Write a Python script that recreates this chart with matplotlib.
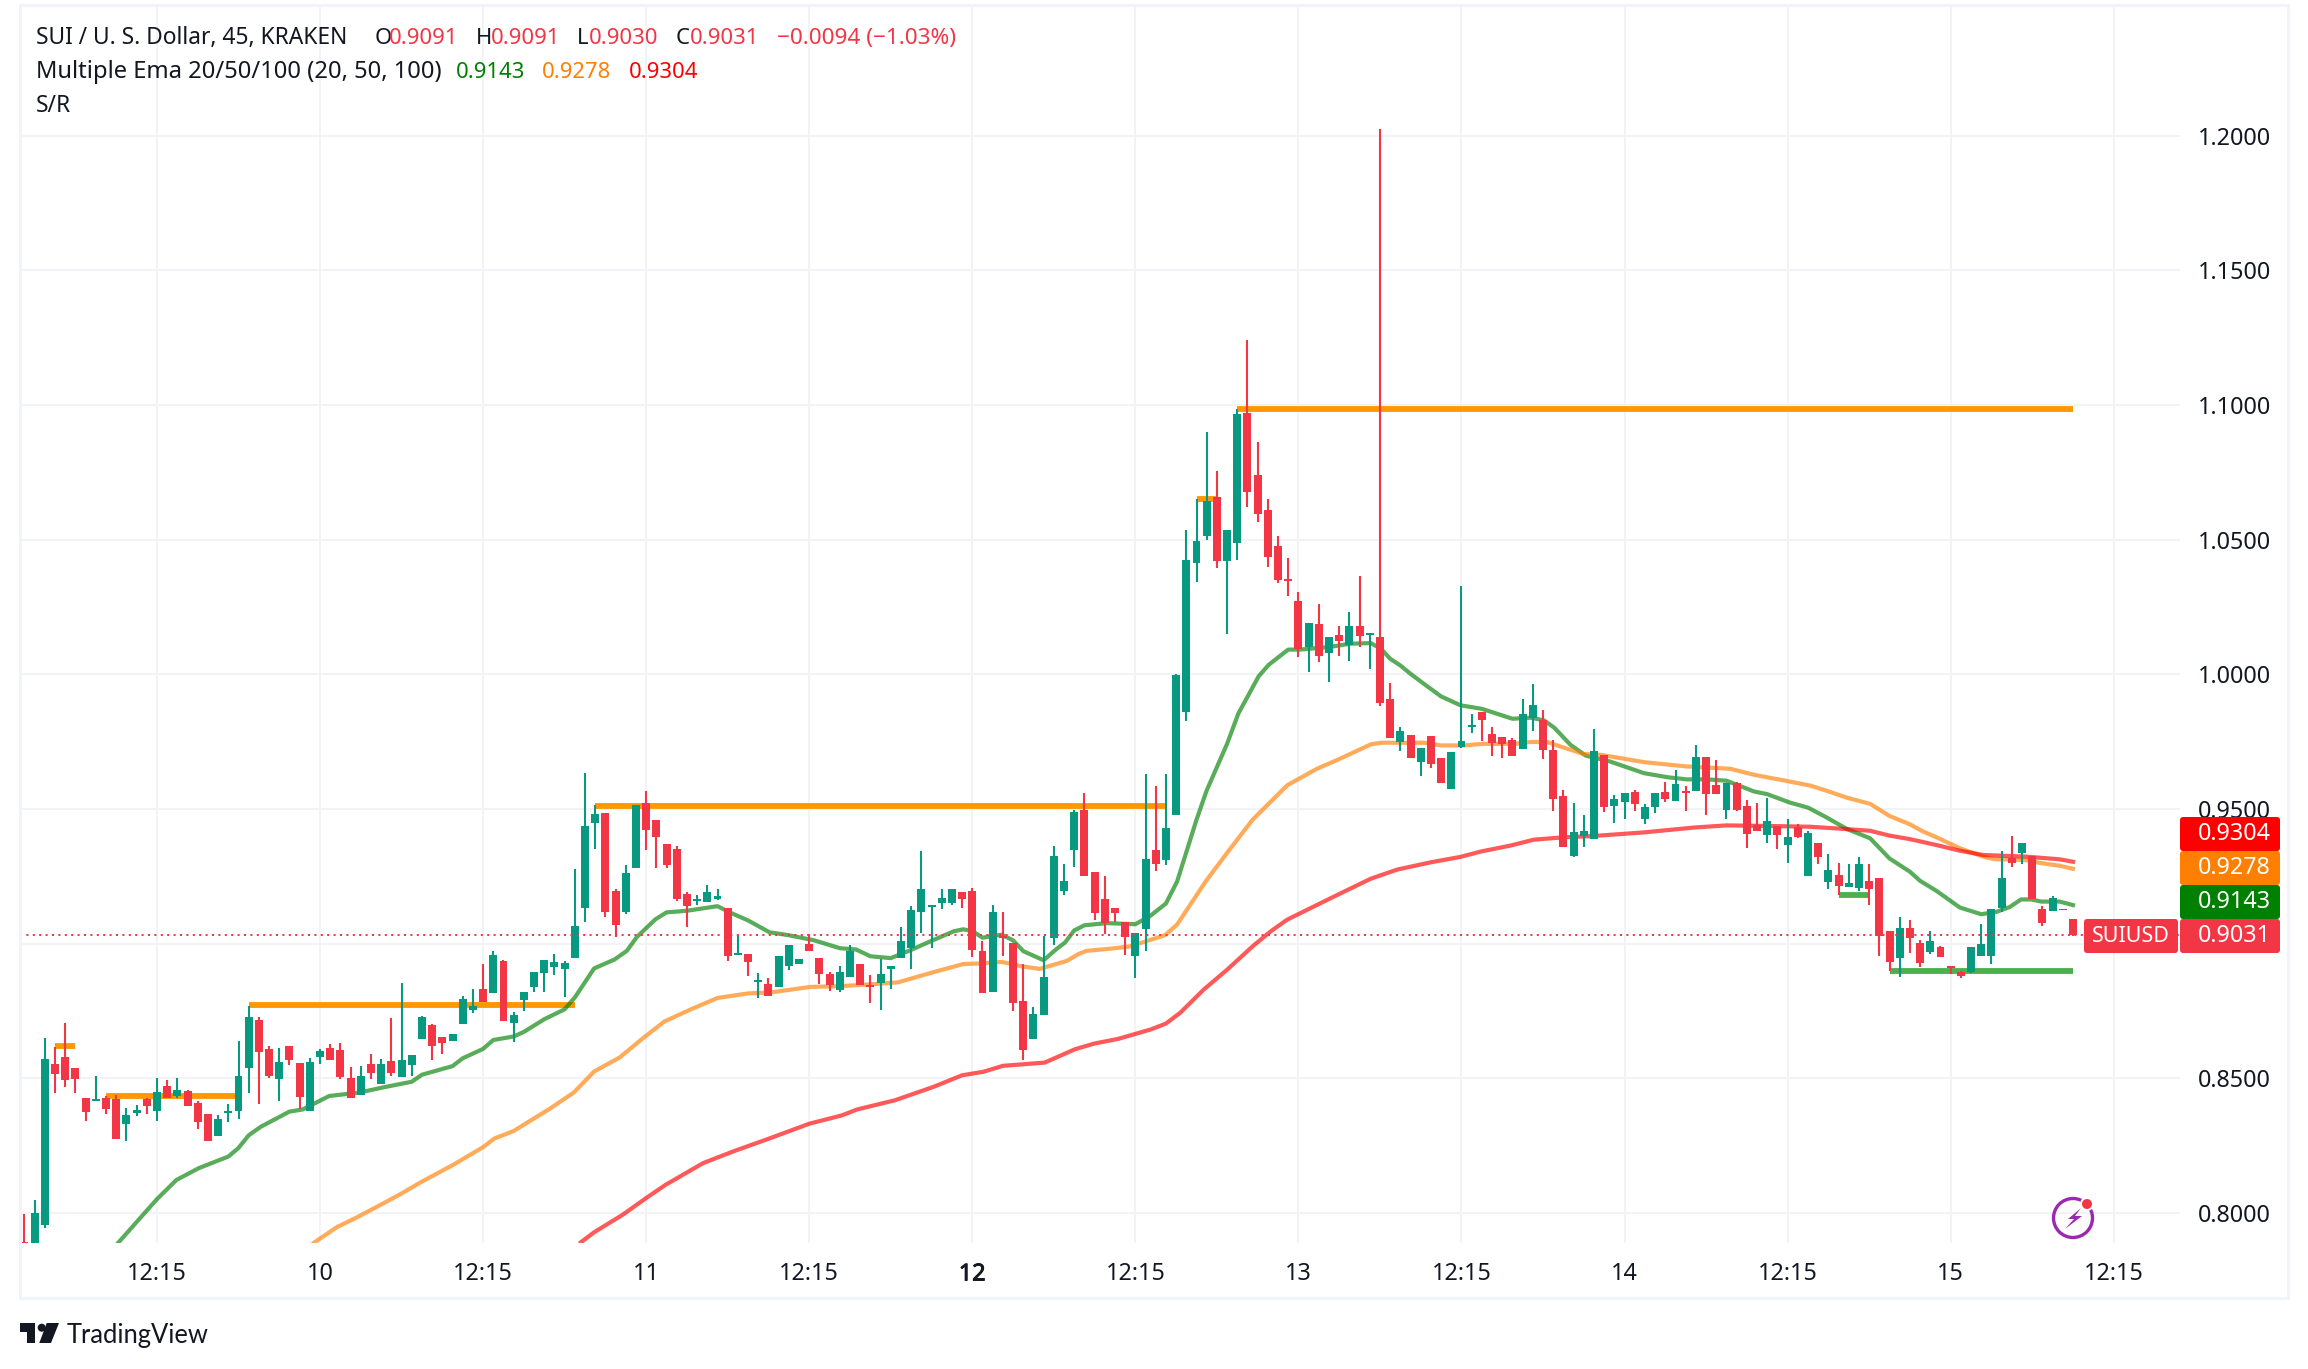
"""SUI / USD 45 minute candles with EMA ribbon and S/R levels."""
import matplotlib

matplotlib.use("Agg")
import matplotlib.patheffects as pe
import matplotlib.pyplot as plt
from matplotlib.patches import Circle, FancyBboxPatch, Polygon, Rectangle

# ---- data (bar index 0 = first 12:15 gridline)
first_bar = -13

opens = [
    .7893, .7800, .7956, .8553, .8578, .8537, .8426, .8417, .8426, .8423,
    .8331, .8371, .8423, .8380, .8471, .8434, .8453, .8407, .8368, .8284,
    .8371, .8380, .8539, .8716, .8610, .8498, .8621, .8556, .8380, .8577,
    .8612, .8605, .8499, .8439, .8553, .8479, .8564, .8504, .8550, .8645,
    .8697, .8653, .8640, .8702, .8754, .8832, .8816, .8935, .8704, .8791,
    .8838, .8891, .8913, .8906, .8946, .9132, .9448, .9485, .9197, .9116,
    .9282, .9522, .9459, .9371, .9352, .9186, .9158, .9156, .9167, .9134,
    .8958, .8961, .8858, .8850, .8839, .8916, .8924, .8998, .8946, .8887,
    .8828, .8876, .8924, .8846, .8853, .8905, .8946, .8983, .9119, .9135,
    .9149, .9149, .9190, .9197, .8972, .8820, .9028, .9001, .8787, .8647,
    .8735, .9020, .9197, .9349, .9496, .9267, .9164, .9131, .9079, .8953,
    .9053, .9349, .9312, .9476, .9860, 1.0412, 1.0513, 1.0658, 1.0420, 1.0487,
    1.0970, 1.0739, 1.0609, 1.0476, 1.0353, 1.0271, 1.0100, 1.0186, 1.0078, 1.0145,
    1.0108, 1.0178, 1.0146, 1.0137, .9907, .9747, .9773, .9673, .9770, .9688,
    .9576, .9729, .9803, .9859, .9777, .9766, .9758, .9721, .9837, .9829,
    .9718, .9548, .9325, .9400, .9388, .9701, .9511, .9526, .9563, .9463,
    .9507, .9563, .9530, .9567, .9567, .9694, .9589, .9496, .9597, .9511,
    .9440, .9403, .9437, .9366, .9433, .9251, .9373, .9228, .9254, .9210,
    .9206, .9232, .9243, .9046, .8945, .9057, .9001, .8968, .8986, .8916,
    .8893, .8893, .8953, .8953, .9132, .9318, .9336, .9325, .9128, .9120,
    .9124, .9091,
]
closes = [
    .7880, .8000, .8572, .8515, .8494, .8498, .8376, .8422, .8384, .8273,
    .8363, .8382, .8395, .8449, .8426, .8456, .8398, .8339, .8265, .8349,
    .8374, .8509, .8727, .8596, .8510, .8561, .8569, .8431, .8561, .8601,
    .8569, .8504, .8428, .8509, .8518, .8553, .8521, .8567, .8586, .8727,
    .8620, .8631, .8664, .8794, .8769, .8783, .8957, .8713, .8735, .8821,
    .8894, .8940, .8932, .8929, .9065, .9437, .9482, .9119, .9068, .9264,
    .9515, .9422, .9397, .9293, .9167, .9138, .9164, .9193, .9175, .8953,
    .8964, .8931, .8865, .8805, .8953, .8994, .8942, .8972, .8887, .8846,
    .8894, .8972, .8846, .8840, .8887, .8916, .9009, .9123, .9204, .9142,
    .9171, .9201, .9164, .8975, .8817, .9116, .9020, .8780, .8606, .8739,
    .8876, .9326, .9234, .9489, .9252, .9112, .9075, .9112, .9023, .9038,
    .9315, .9297, .9430, .9996, 1.0424, 1.0494, 1.0643, 1.0420, 1.0535, 1.0966,
    1.0676, 1.0594, 1.0435, 1.0349, 1.0347, 1.0093, 1.0190, 1.0067, 1.0137, 1.0123,
    1.0178, 1.0141, 1.0152, .9892, .9762, .9788, .9688, .9725, .9666, .9595,
    .9710, .9751, .9811, .9829, .9744, .9740, .9695, .9851, .9885, .9718,
    .9536, .9360, .9414, .9418, .9716, .9507, .9537, .9560, .9519, .9507,
    .9560, .9537, .9593, .9561, .9694, .9556, .9556, .9597, .9496, .9407,
    .9418, .9455, .9403, .9396, .9396, .9411, .9321, .9273, .9213, .9225,
    .9295, .9202, .9027, .8931, .9057, .9020, .8927, .9009, .8949, .8909,
    .8878, .8986, .8998, .9128, .9243, .9299, .9373, .9165, .9076, .9169,
    .9128, .9031,
]
highs = [
    .7995, .8048, .8650, .8616, .8705, .8537, .8426, .8509, .8434, .8437,
    .8390, .8399, .8426, .8501, .8493, .8501, .8456, .8415, .8368, .8363,
    .8403, .8639, .8770, .8729, .8620, .8612, .8621, .8556, .8574, .8609,
    .8628, .8631, .8542, .8545, .8590, .8572, .8724, .8854, .8586, .8731,
    .8702, .8653, .8664, .8805, .8832, .8924, .8973, .8938, .8746, .8821,
    .8894, .8940, .8962, .8935, .9277, .9635, .9515, .9485, .9201, .9293,
    .9515, .9567, .9459, .9371, .9363, .9190, .9179, .9219, .9204, .9134,
    .9031, .8963, .8890, .8872, .8953, .8994, .8942, .9034, .8946, .8894,
    .8916, .8994, .8924, .8883, .8942, .8916, .9060, .9138, .9345, .9142,
    .9204, .9204, .9190, .9208, .9009, .9142, .9119, .9001, .8924, .8765,
    .9027, .9363, .9297, .9496, .9559, .9267, .9252, .9133, .9079, .9038,
    .9629, .9585, .9629, 1.0000, 1.0535, 1.0650, 1.0899, 1.0754, 1.0535, 1.0985,
    1.1241, 1.0862, 1.0650, 1.0513, 1.0431, 1.0305, 1.0190, 1.0260, 1.0137, 1.0178,
    1.0230, 1.0364, 1.0152, 1.2027, .9967, .9803, .9773, .9725, .9770, .9688,
    .9710, 1.0327, .9851, .9859, .9803, .9766, .9762, .9907, .9963, .9866,
    .9755, .9571, .9522, .9478, .9798, .9701, .9552, .9560, .9571, .9519,
    .9560, .9600, .9645, .9586, .9738, .9694, .9682, .9597, .9600, .9534,
    .9522, .9541, .9437, .9463, .9444, .9418, .9373, .9333, .9299, .9295,
    .9321, .9295, .9243, .9046, .9098, .9087, .9012, .9046, .8990, .8916,
    .8897, .8986, .9072, .9128, .9344, .9400, .9373, .9325, .9139, .9176,
    .9128, .9091,
]
lows = [
    .7850, .7750, .7943, .8445, .8469, .8444, .8341, .8417, .8368, .8273,
    .8265, .8358, .8368, .8341, .8426, .8426, .8398, .8312, .8265, .8284,
    .8336, .8347, .8444, .8406, .8501, .8414, .8550, .8384, .8380, .8553,
    .8569, .8498, .8428, .8439, .8498, .8479, .8510, .8504, .8510, .8645,
    .8567, .8590, .8640, .8702, .8742, .8783, .8816, .8713, .8634, .8750,
    .8821, .8821, .8883, .8802, .8946, .9081, .9352, .9099, .9025, .9110,
    .9282, .9349, .9282, .9282, .9160, .9060, .9145, .9156, .9163, .8935,
    .8958, .8879, .8798, .8805, .8839, .8901, .8924, .8972, .8850, .8824,
    .8820, .8876, .8846, .8780, .8754, .8831, .8946, .8905, .9038, .8983,
    .9127, .9142, .9131, .8950, .8817, .8820, .8953, .8750, .8569, .8647,
    .8735, .8994, .9179, .9286, .9252, .9086, .9034, .9079, .8957, .8872,
    .8972, .9271, .9293, .9476, .9825, 1.0342, 1.0498, 1.0394, 1.0149, 1.0424,
    1.0621, 1.0565, 1.0398, 1.0338, 1.0290, 1.0063, 1.0007, 1.0045, .9970, 1.0067,
    1.0048, 1.0100, 1.0019, .9881, .9762, .9714, .9688, .9621, .9651, .9595,
    .9576, .9725, .9784, .9751, .9695, .9688, .9695, .9721, .9788, .9684,
    .9491, .9360, .9321, .9360, .9388, .9489, .9448, .9463, .9493, .9444,
    .9485, .9526, .9530, .9493, .9567, .9478, .9556, .9463, .9493, .9355,
    .9418, .9373, .9351, .9299, .9392, .9251, .9295, .9202, .9180, .9210,
    .9195, .9143, .8953, .8897, .8875, .8964, .8912, .8960, .8949, .8886,
    .8871, .8890, .8953, .8923, .9117, .9284, .9295, .9165, .9065, .9120,
    .9124, .9030,
]

ema20_x = [
    -3.8, 0, 1.9, 4.1, 7, 8, 9, 10.2, 13, 14.3, 16.9, 19.9, 22.2, 25, 26, 29, 30, 32, 33,
    35, 36, 38, 40, 41, 42.9, 44.9, 46.1, 47.1, 48.9, 50, 52, 55, 56.2, 58, 60.1, 62,
    64.5, 67, 68.6, 70, 72, 73.9, 76.1, 78.2, 79.1, 80, 81, 82.9, 84, 85, 87, 88.2,
    89.1, 90, 91, 93.2, 96, 97.5, 99, 100.1, 102, 103, 105, 106.1, 108.1, 109.1,
    111, 112.2, 115.1, 117.1, 119.1, 120.1, 121, 122, 123, 124.3, 126, 127.9, 130,
    133, 134.8, 136.1, 137.1, 138.7, 140.2, 142.6, 145.9, 148.2, 150.1, 152.1, 154,
    156.7, 158, 160.2, 162, 163.8, 165.8, 168.1, 170, 172, 173, 174.6, 176.9, 179,
    180.5, 181.8, 182.9, 183.9, 184.9, 186.7, 188,
]
ema20_y = [
    .7889, .8051, .8122, .8166, .8209, .8241, .8288, .8320, .8376, .8384, .8434, .8447,
    .8466, .8487, .8513, .8545, .8574, .8609, .8642, .8655, .8672, .8719, .8756, .8800,
    .8908, .8941, .8973, .9025, .9090, .9116, .9122, .9139, .9116, .9086, .9042, .9031,
    .9012, .8983, .8978, .8953, .8946, .8975, .9012, .9046, .9053, .9047, .9022, .9033,
    .9012, .8972, .8938, .8978, .9004, .9049, .9068, .9076, .9072, .9104, .9149, .9231,
    .9460, .9569, .9742, .9854, .9993, 1.0036, 1.0092, 1.0092, 1.0102, 1.0114, 1.0116,
    1.0095, 1.0058, 1.0033, 1.0002, .9965, .9918, .9885, .9872, .9835, .9839, .9829,
    .9802, .9738, .9698, .9676, .9633, .9618, .9610, .9610, .9605, .9565, .9555, .9524,
    .9505, .9469, .9426, .9391, .9316, .9267, .9233, .9196, .9134, .9109, .9118, .9136,
    .9164, .9164, .9156, .9156, .9143,
]
ema50_x = [
    15.4, 17.7, 19.4, 22.2, 24.1, 25.9, 29, 32, 33.1, 35, 38.6, 40.9, 42.9, 45.4, 47.6,
    49.8, 52.4, 55, 58, 60.3, 64.1, 67.1, 70.1, 72.7, 76.1, 79.1, 80.6, 82.9, 84.8,
    86.6, 89.3, 90.4, 91.2, 93.8, 95.5, 98.9, 100.1, 102.9, 105, 107.5, 110.9, 113.8, 116.1,
    119.1, 120.1, 124.3, 126, 128.2, 130.2, 133.2, 134.8, 136.4, 137.7, 140, 141.7,
    145.9, 148.2, 150.1, 152.1, 154.4, 156.7, 159.9, 162.2, 163.8, 165.8, 168.1, 170,
    172, 173.3, 174.6, 176.9, 179.2, 180.2, 183.4, 184.7, 186.7, 188,
]
ema50_y = [
    .7889, .7948, .7979, .8035, .8074, .8114, .8177, .8244, .8276, .8304, .8388, .8447,
    .8525, .8577, .8646, .8711, .8756, .8798, .8815, .8819, .8839, .8842, .8849,
    .8856, .8893, .8924, .8926, .8932, .8916, .8906, .8936, .8961, .8973, .8982, .8990,
    .9031, .9071, .9231, .9337, .9460, .9588, .9649, .9687, .9740, .9746, .9746, .9736, .9736,
    .9742, .9742, .9749, .9749, .9732, .9704, .9701, .9674, .9665, .9658, .9654, .9649,
    .9627, .9604, .9587, .9568, .9542, .9519, .9474, .9443, .9416, .9395, .9354, .9323,
    .9314, .9310, .9300, .9289, .9278,
]
ema100_x = [
    41.6, 42.9, 45.7, 48, 49.9, 53.6, 56.6, 60, 64, 67.2, 68.7, 72.4, 76.2, 79, 81.1, 83,
    87.1, 90.1, 92, 94.3, 97.5, 99, 100.4, 102.7, 105, 107.6, 109.3, 110.9, 113.2, 116.1,
    119.1, 121.7, 125, 127.9, 129.9, 132.8, 135.1, 138.1, 140.7, 145.9,
    150.8, 154, 158, 162.2, 165.5, 168.1, 170, 172, 174.6, 176.9, 179.2, 183.4, 186.7,
    188,
]
ema100_y = [
    .7891, .7928, .7993, .8055, .8104, .8185, .8229, .8275, .8331, .8362, .8384, .8418,
    .8468, .8511, .8524, .8546, .8558, .8608, .8629, .8646, .8681, .8703, .8743, .8829,
    .8903, .8993, .9046, .9089, .9132, .9186, .9241, .9275, .9302, .9322, .9342, .9364,
    .9386, .9395, .9399, .9413, .9431, .9439, .9437, .9434, .9426, .9419, .9401, .9388,
    .9366, .9345, .9329, .9323, .9313, .9304,
]

# S/R segments
resist_start = [-10, -5, 9, 43, 102, 106]
resist_end = [-8, 8, 41, 99, 104, 188]
resist_level = [.8618, .8434, .8773, .9511, 1.0651, 1.0985]
support_start = [165, 170]
support_end = [168, 188]
support_level = [.9180, .8897]

price_ticks = [0.80, 0.85, 0.90, 0.95, 1.00, 1.05, 1.10, 1.15, 1.20]
time_ticks = [0, 16, 32, 48, 64, 80, 96, 112, 128, 144, 160, 176, 192]
time_labels = ["12:15", "10", "12:15", "11", "12:15", "12", "12:15", "13",
               "12:15", "14", "12:15", "15", "12:15"]
last_price = 0.9031

UP = "#089981"
DOWN = "#f23645"
GRID = "#f2f3f6"
FRAME = "#f0f3fa"
TEXT = "#131722"
FONT = "Noto Sans"

plt.rcParams["font.family"] = FONT
W, H = 2308, 1369
fig = plt.figure(figsize=(W / 100, H / 100), dpi=100, facecolor="white")

# main pane in pixels: x 20..2180, y 5..1243
ax = fig.add_axes([20 / W, 1 - 1243 / H, 2160 / W, 1238 / H])
ax.set_xlim(-13.44, 198.5)
ax.set_ylim(0.7888, 1.2486)
for s in ax.spines.values():
    s.set_visible(False)
ax.set_axisbelow(True)
ax.grid(True, color=GRID, linewidth=1.44)
ax.yaxis.tick_right()
ax.set_yticks(price_ticks)
ax.set_yticklabels([f"{p:.4f}" for p in price_ticks])
ax.set_xticks(time_ticks)
ax.set_xticklabels(time_labels)
ax.tick_params(axis="y", length=0, pad=13, labelsize=16.8, labelcolor=TEXT)
ax.tick_params(axis="x", length=0, pad=14, labelsize=16.8, labelcolor=TEXT)
for lbl in ax.get_xticklabels():
    if lbl.get_text() == "12":
        # day boundary of the current week is drawn heavier
        lbl.set_path_effects([pe.withStroke(linewidth=0.7, foreground=TEXT)])

# S/R levels
ax.hlines(resist_level, resist_start, resist_end, color="#ff9800", linewidth=4.2, zorder=2)
ax.hlines(support_level, support_start, support_end, color="#4caf50", linewidth=4.2, zorder=2)

# EMA ribbon
ax.plot(ema20_x, ema20_y, color="#008000", alpha=0.65, linewidth=3, zorder=3)
ax.plot(ema50_x, ema50_y, color="#ff7f00", alpha=0.65, linewidth=3, zorder=3)
ax.plot(ema100_x, ema100_y, color="#ff0000", alpha=0.65, linewidth=3, zorder=3)

# candles
bar_x = [first_bar + k for k in range(len(opens))]
colors = [UP if c >= o else DOWN for o, c in zip(opens, closes)]
ax.vlines(bar_x, lows, highs, colors=colors, linewidth=1.5, zorder=4)
body_low = [min(o, c) for o, c in zip(opens, closes)]
body_size = [max(abs(o - c), 0.0006) for o, c in zip(opens, closes)]
ax.bar(bar_x, body_size, bottom=body_low, width=0.78, color=colors, linewidth=0, zorder=5)

ax.axhline(last_price, color=DOWN, linewidth=1.44, linestyle=(0, (1, 2.2)), zorder=6)

# overlay in pixel coordinates for frame, legend, price tags and logos
ov = fig.add_axes([0, 0, 1, 1], zorder=10)
ov.set_xlim(0, W)
ov.set_ylim(H, 0)
ov.axis("off")
ov.patch.set_alpha(0)

ov.add_patch(Rectangle((20, 5), 2268, 1293, fill=False, edgecolor=FRAME, linewidth=2.2))


def legend_text(x, y, s, color=TEXT, size=16.4):
    ov.text(x, y, s, color=color, fontsize=size, va="baseline", ha="left")


legend_text(36, 44, "SUI / U. S. Dollar, 45, KRAKEN")
for x, s, col in [
    (375, "O", TEXT), (389, "0.9091", DOWN), (476, "H", TEXT), (491, "0.9091", DOWN),
    (577, "L", TEXT), (589, "0.9030", DOWN), (676, "C", TEXT), (690, "0.9031", DOWN),
]:
    legend_text(x, 44, s, col, 15.9)
legend_text(777, 44, "\u22120.0094 (\u22121.03%)", DOWN, 16.2)
legend_text(36, 78, "Multiple Ema 20/50/100 (20, 50, 100)", size=17.1)
legend_text(456, 78, "0.9143", "#008000", 15.9)
legend_text(542, 78, "0.9278", "#ff7f00", 15.9)
legend_text(629, 78, "0.9304", "#ff0000", 15.9)
legend_text(36, 112, "S/R")


def price_tag(x0, x1, y0, y1, s, color, size=16.8, shift=4):
    ov.add_patch(FancyBboxPatch((x0 + 2, y0 + 2), x1 - x0 - 4, y1 - y0 - 4,
                                boxstyle="round,pad=2,rounding_size=3",
                                facecolor=color, edgecolor="none"))
    ov.text((x0 + x1) / 2 + shift, (y0 + y1) / 2, s, color="white", fontsize=size,
            ha="center", va="center")


price_tag(2180, 2280, 817, 851, "0.9304", "#ff0000")
price_tag(2180, 2280, 851, 885, "0.9278", "#ff7f00")
price_tag(2180, 2280, 885, 919, "0.9143", "#008000")
price_tag(2180, 2280, 919, 953, "0.9031", DOWN)
price_tag(2084, 2178, 919, 953, "SUIUSD", DOWN, 15.5, 0)

# lightning badge
ov.add_patch(Circle((2073, 1218), 19.5, fill=False, edgecolor="#9c27b0", linewidth=2.4))
ov.add_patch(Circle((2087, 1204), 7, facecolor="white", edgecolor="none"))
ov.add_patch(Circle((2087, 1204), 5, facecolor=DOWN, edgecolor="none"))
ov.add_patch(Polygon([(2081, 1208), (2068, 1219), (2074, 1219), (2065, 1229),
                      (2082, 1216), (2075, 1216)], closed=True,
                     facecolor="#9c27b0", edgecolor="none"))

# TradingView logo
ov.add_patch(Polygon([(20, 1323), (35, 1323), (35, 1343), (27, 1343),
                      (27, 1332), (20, 1332)], closed=True, facecolor=TEXT, edgecolor="none"))
ov.add_patch(Circle((41.7, 1327.7), 4, facecolor=TEXT, edgecolor="none"))
ov.add_patch(Polygon([(46.7, 1323), (59, 1323), (51, 1343), (39.3, 1343)], closed=True,
                     facecolor=TEXT, edgecolor="none"))
ov.text(66.5, 1342.5, "TradingView", color=TEXT, fontsize=18.4, va="baseline", ha="left",
        family="Lato")

fig.savefig("out.png", dpi=100, facecolor="white")
plt.close(fig)
